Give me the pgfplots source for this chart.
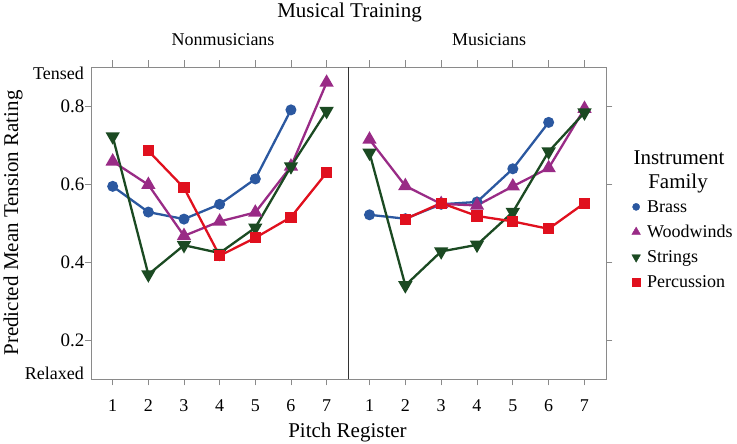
\documentclass[border=0pt]{standalone}
\usepackage{fontspec}
\setmainfont{Liberation Serif}
\usepackage{pgfplots}
\pgfplotsset{compat=1.18}
\definecolor{cbrass}{HTML}{2B58A0}
\definecolor{cwood}{HTML}{992B86}
\definecolor{cstr}{HTML}{1B4A22}
\definecolor{cperc}{HTML}{E0101E}
\definecolor{framec}{HTML}{8A8A8A}
\begin{document}
\begin{tikzpicture}
\path[use as bounding box] (0pt,0pt) rectangle (737pt,444pt);
\pgfplotsset{
  panel/.style={
    scale only axis, height=312pt,
    xmin=0.4, xmax=7.6, ymin=0.1, ymax=0.9,
    xtick={1,2,3,4,5,6,7}, ytick={0.2,0.4,0.6,0.8},
    tick align=outside, xtick pos=both,
    major tick length=6.5pt,
    axis line style={framec, line width=0.9pt},
    major tick style={framec, line width=0.9pt},
    /pgf/number format/assume math mode=true,
    /pgf/number format/fixed, /pgf/number format/precision=1,
    xticklabel style={font=\fontsize{18}{20}\selectfont, yshift=-11pt},
    yticklabel style={font=\fontsize{19}{21}\selectfont, xshift=3pt},
    clip=false,
  },
  brass/.style={cbrass, line width=2.3pt, mark=*, mark size=4.3pt, mark options={solid}},
  wood/.style={cwood, line width=2.3pt, mark=triangle*, mark size=6pt, mark options={solid}},
  str/.style={cstr, line width=2.3pt, mark=triangle*, mark size=6pt, mark options={solid, rotate=180}},
  perc/.style={cperc, line width=2.3pt, mark=square*, mark size=4.4pt, mark options={solid}},
}
% Left panel: Nonmusicians
\begin{axis}[panel, at={(91.3pt,65pt)}, anchor=south west, width=256.7pt,
  ytick pos=left,
  extra y ticks={0.885,0.115}, extra y tick labels={Tensed,Relaxed},
  extra y tick style={major tick length=0pt, yticklabel style={font=\fontsize{18}{20}\selectfont, xshift=-7pt}},
]
\addplot[brass] coordinates {(1,0.594) (2,0.528) (3,0.510) (4,0.548) (5,0.613) (6,0.790)};
\addplot[wood] coordinates {(1,0.658) (2,0.598) (3,0.467) (4,0.504) (5,0.527) (6,0.645) (7,0.860)};
\addplot[str] coordinates {(1,0.722) (2,0.368) (3,0.443) (4,0.423) (5,0.488) (6,0.645) (7,0.787)};
\addplot[perc] coordinates {(2,0.685) (3,0.590) (4,0.416) (5,0.462) (6,0.515) (7,0.629)};
\end{axis}
% Right panel: Musicians
\begin{axis}[panel, at={(348pt,65pt)}, anchor=south west, width=258pt,
  ytick pos=right, yticklabels={},
  legend style={at={(axis description cs:1.089,0.58)}, anchor=north west,
    draw=none, fill=none, font=\fontsize{18}{20}\selectfont, row sep=7.5pt,
    inner sep=0pt, nodes={inner sep=2pt}},
  legend cell align=left,
  legend image code/.code={\path[draw=none,fill=none] (0pt,-3pt) rectangle (16pt,3pt); \draw[#1] plot coordinates {(7pt,0pt)};},
]
\addplot[brass, forget plot] coordinates {(1,0.521) (2,0.511) (3,0.548) (4,0.554) (5,0.639) (6,0.758)};
\addplot[wood, forget plot] coordinates {(1,0.714) (2,0.595) (3,0.549) (4,0.545) (5,0.594) (6,0.641) (7,0.793)};
\addplot[str, forget plot] coordinates {(1,0.680) (2,0.340) (3,0.427) (4,0.444) (5,0.528) (6,0.683) (7,0.783)};
\addplot[perc, forget plot] coordinates {(2,0.510) (3,0.551) (4,0.518) (5,0.504) (6,0.485) (7,0.551)};
\addlegendimage{only marks, cbrass, mark=*, mark size=3.6pt}
\addlegendentry{Brass}
\addlegendimage{only marks, cwood, mark=triangle*, mark size=5pt}
\addlegendentry{Woodwinds}
\addlegendimage{only marks, cstr, mark=triangle*, mark size=5pt, mark options={rotate=180}}
\addlegendentry{Strings}
\addlegendimage{only marks, cperc, mark=square*, mark size=3.6pt}
\addlegendentry{Percussion}
\draw[black!80, line width=0.9pt] (axis cs:0.4,0.1) -- (axis cs:0.4,0.9);
\end{axis}
% Titles and labels
\node[font=\fontsize{21}{24}\selectfont] at (349.5pt,432pt) {Musical Training};
\node[font=\fontsize{18}{20}\selectfont] at (223pt,404pt) {Nonmusicians};
\node[font=\fontsize{18}{20}\selectfont] at (489pt,404pt) {Musicians};
\node[font=\fontsize{21}{24}\selectfont] at (347.5pt,12pt) {Pitch Register};
\node[font=\fontsize{21}{24}\selectfont, rotate=90] at (13pt,221pt) {Predicted Mean Tension Rating};
\node[font=\fontsize{21}{24}\selectfont] at (679pt,286pt) {Instrument};
\node[font=\fontsize{21}{24}\selectfont] at (678pt,261pt) {Family};
\end{tikzpicture}
\end{document}
